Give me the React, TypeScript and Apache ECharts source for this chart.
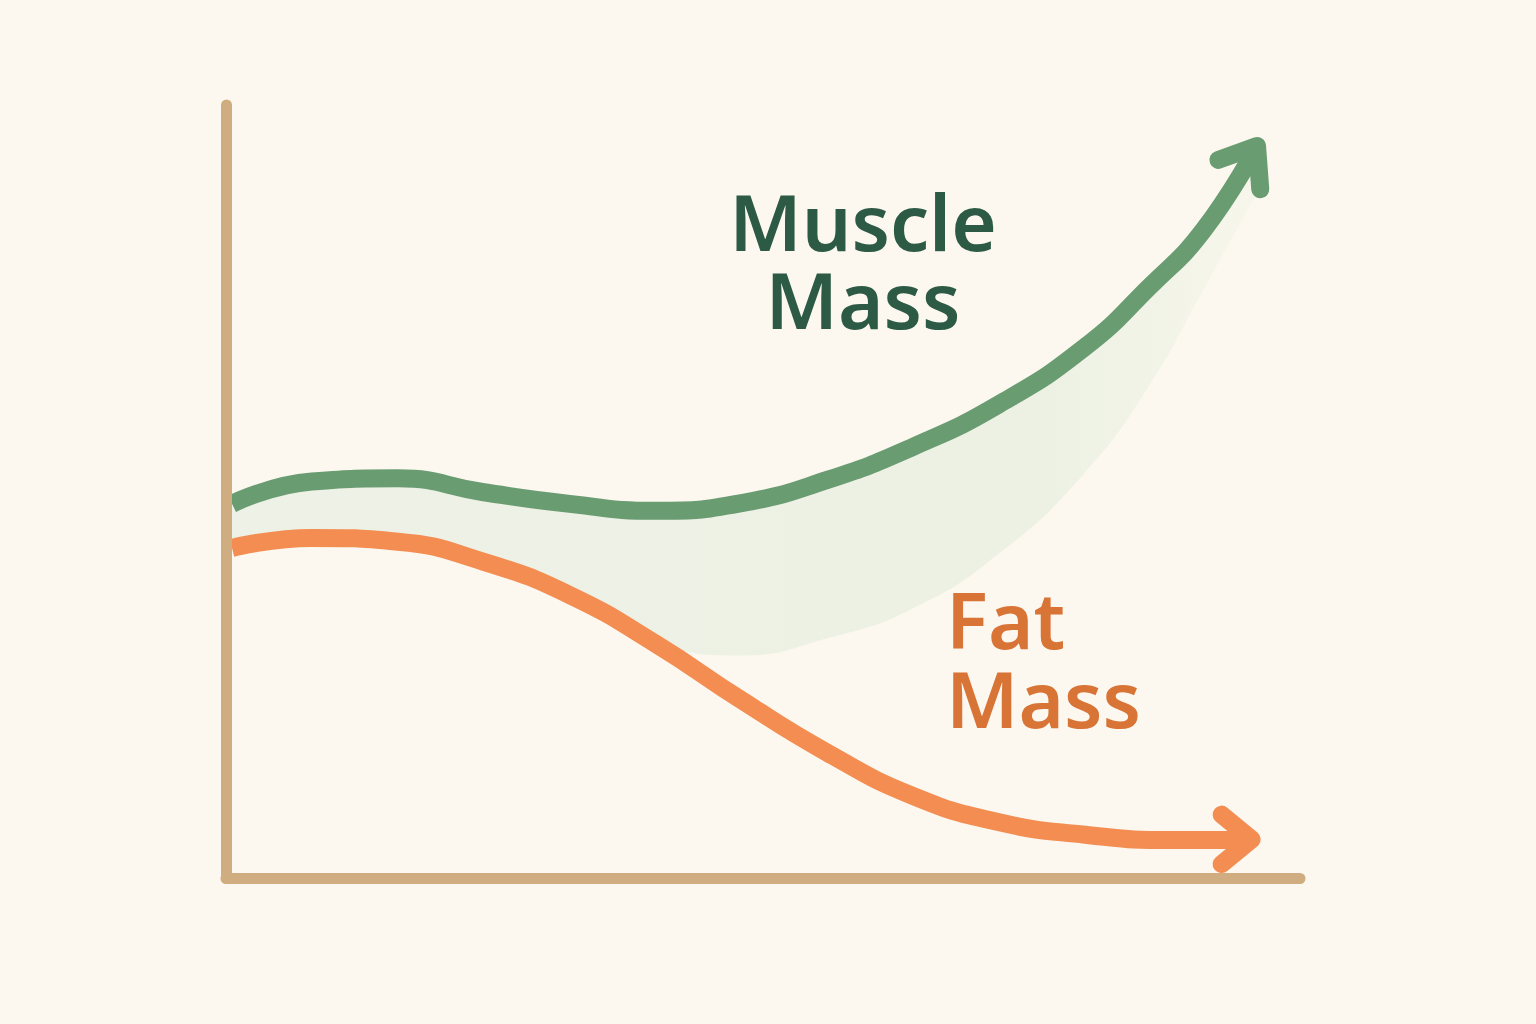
import React, { useEffect, useRef } from "react";
import * as echarts from "echarts";

// Schematic curves, x = time (0..100), y = relative mass (0..100)
const muscleX = [0.56, 8, 16, 24, 32, 40, 48, 56, 64, 72, 80, 86, 91, 95.9];
const muscleY = [48.4, 51.3, 51.7, 49.9, 48.4, 47.5, 48.5, 51.5, 55.8, 61.3, 68.7, 76.5, 83.8, 94.4];

const fatX = [0.56, 8, 16, 24, 32, 40, 48, 56, 64, 72, 80, 88, 95.3];
const fatY = [42.7, 44.0, 43.5, 40.9, 36.6, 30.3, 23.0, 16.2, 10.6, 7.2, 5.6, 4.9, 4.9];

// lower edge of the shaded gap between the two curves
const gapX = [0.56, 8, 16, 24, 32, 40, 48, 56, 64, 72, 80, 86, 91, 96.7];
const gapY = [43.6, 44.6, 44.2, 42.0, 36.9, 30.6, 28.8, 31.0, 34.9, 42.0, 52.5, 63.8, 76.1, 90.3];

// arrow heads (wing, tip, wing)
const muscleArrowX = [92.4, 96.0, 96.3];
const muscleArrowY = [92.9, 94.7, 89.1];
const fatArrowX = [92.7, 95.5, 92.7];
const fatArrowY = [8.2, 5.0, 1.8];

const muscleLabel = "Muscle\nMass";
const fatLabel = "Fat\nMass";

const BG = "#FCF8EF";
const AXIS = "#CFAD80";
const GREEN = "#6A9C72";
const ORANGE = "#F38D52";
const GREEN_TEXT = "#2D5A45";
const ORANGE_TEXT = "#D97437";

const pairs = (xs: number[], ys: number[]) => xs.map((x, i) => [x, ys[i]]);

export default function App() {
  const ref = useRef<HTMLDivElement>(null);
  useEffect(() => {
    if (!ref.current) return;
    const chart = echarts.init(ref.current, null, { renderer: "svg" });
    const axisCommon = {
      type: "value" as const,
      min: 0,
      max: 100,
      z: 10,
      axisLine: { show: true, lineStyle: { color: AXIS, width: 11, cap: "round" } },
      axisTick: { show: false },
      axisLabel: { show: false },
      splitLine: { show: false },
    };
    const font = '"Noto Sans", sans-serif';
    const curve = { smooth: 0.5, symbol: "none" };
    chart.setOption({
      animation: false,
      backgroundColor: BG,
      grid: { left: 226, top: 105, width: 1074, height: 773 },
      xAxis: { ...axisCommon },
      yAxis: { ...axisCommon },
      series: [
        {
          type: "line",
          data: pairs(muscleX, muscleY),
          ...curve,
          silent: true,
          z: 1,
          lineStyle: { width: 0, opacity: 0 },
          areaStyle: {
            opacity: 1,
            color: new echarts.graphic.LinearGradient(0, 0, 1, 0, [
              { offset: 0, color: "#EEF1E6" },
              { offset: 0.8, color: "#EDF1E4" },
              { offset: 1, color: "rgba(237,241,228,0.3)" },
            ]),
          },
        },
        {
          type: "line",
          data: pairs(gapX, gapY),
          ...curve,
          silent: true,
          z: 1,
          lineStyle: { width: 0, opacity: 0 },
          areaStyle: { color: BG, opacity: 1 },
        },
        {
          type: "line",
          data: pairs(fatX, fatY),
          ...curve,
          z: 3,
          lineStyle: { width: 18, color: ORANGE, cap: "butt" },
        },
        {
          type: "line",
          data: pairs(fatArrowX, fatArrowY),
          smooth: false,
          symbol: "none",
          z: 3,
          lineStyle: { width: 18, color: ORANGE, cap: "round", join: "round" },
        },
        {
          type: "line",
          data: pairs(muscleX, muscleY),
          ...curve,
          z: 3,
          lineStyle: { width: 18, color: GREEN, cap: "butt" },
        },
        {
          type: "line",
          data: pairs(muscleArrowX, muscleArrowY),
          smooth: false,
          symbol: "none",
          z: 3,
          lineStyle: { width: 18, color: GREEN, cap: "round", join: "round" },
        },
      ],
      graphic: [
        {
          type: "text",
          x: 863,
          y: 260,
          z: 100,
          style: {
            text: muscleLabel,
            font: `600 78px ${font}`,
            lineHeight: 78,
            fill: GREEN_TEXT,
            align: "center",
            verticalAlign: "middle",
          },
        },
        {
          type: "text",
          x: 946,
          y: 658,
          z: 100,
          style: {
            text: fatLabel,
            font: `600 78px ${font}`,
            lineHeight: 79,
            fill: ORANGE_TEXT,
            align: "left",
            verticalAlign: "middle",
          },
        },
      ],
    });
    return () => chart.dispose();
  }, []);
  return (
    <div
      ref={ref}
      style={{ position: "fixed", left: 0, top: 0, width: 1536, height: 1024, background: BG }}
    />
  );
}
